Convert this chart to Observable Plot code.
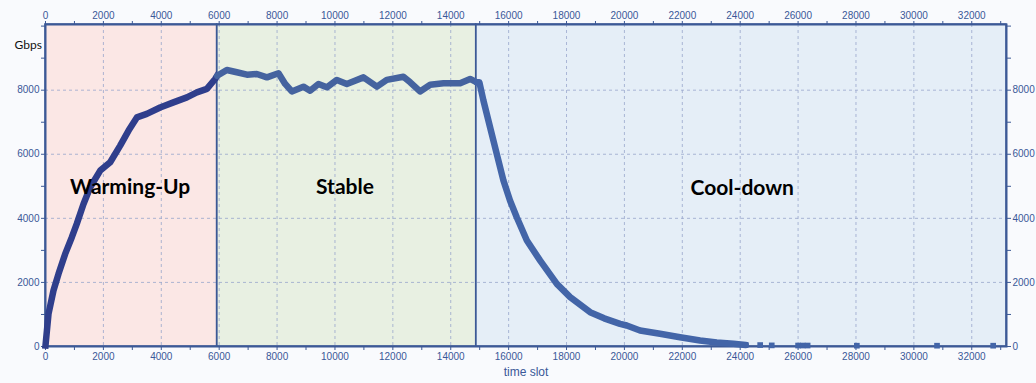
<!DOCTYPE html>
<html>
<head>
<meta charset="utf-8">
<script src="https://cdn.jsdelivr.net/npm/d3@7"></script>
<script src="https://cdn.jsdelivr.net/npm/@observablehq/plot@0.6"></script>
<style>
  html, body { margin: 0; padding: 0; background: #ffffff; }
  #chart { width: 1036px; height: 383px; }
</style>
</head>
<body>
<div id="chart"></div>
<script>
// ---- Data ----
const phaseNames = ["Warming-Up", "Stable", "Cool-down"];
const phaseStart = [0, 5930, 14880];
const phaseEnd = [5930, 14880, 33200];

const warmX = [0, 104, 276, 450, 680, 910, 1080, 1313, 1545, 1890, 2235, 2580, 2870, 3157, 3500, 3960, 4420, 4885, 5230, 5575, 5860, 5930];
const warmY = [30, 1020, 1747, 2268, 2890, 3410, 3827, 4450, 4970, 5490, 5750, 6270, 6740, 7150, 7260, 7460, 7620, 7775, 7930, 8040, 8350, 8450];

const stableX = [5930, 6265, 6610, 6960, 7300, 7650, 8050, 8280, 8510, 8910, 9140, 9430, 9720, 10065, 10410, 10985, 11450, 11790, 12365, 12600, 12940, 13290, 13750, 14325, 14670, 14900];
const stableY = [8450, 8630, 8560, 8485, 8505, 8400, 8530, 8195, 7960, 8110, 7985, 8195, 8090, 8320, 8195, 8400, 8110, 8320, 8420, 8245, 7960, 8170, 8215, 8215, 8350, 8245];

const coolX = [14900, 14990, 15130, 15360, 15590, 15820, 16050, 16280, 16630, 17090, 17665, 18125, 18815, 19300, 19850, 20080, 20540, 21230, 21920, 22615, 23190, 23770, 24190];
const coolY = [8245, 8245, 7673, 6840, 6010, 5180, 4550, 4035, 3306, 2680, 1955, 1540, 1070, 880, 708, 655, 500, 396, 290, 187, 125, 84, 50];

const tailX = [24190, 24690, 25090, 26000, 26160, 26330, 28030, 30800, 32740];
const tailY = [50, 45, 35, 30, 30, 30, 25, 25, 25];

const yTickValues = [0, 2000, 4000, 6000, 8000];
const xLabel = "time slot";
const yLabel = "Gbps";

// ---- Build tables ----
const phases = phaseNames.map((name, i) => ({name, x1: phaseStart[i], x2: phaseEnd[i]}));
const warm = warmX.map((x, i) => ({x, y: warmY[i]}));
const stable = stableX.map((x, i) => ({x, y: stableY[i]}));
const cool = coolX.map((x, i) => ({x, y: coolY[i]}));
const tail = tailX.map((x, i) => ({x, y: tailY[i]}));

const phaseFill = ["#fbe7e5", "#e8f0e2", "#e5eef7"];
const axisColor = "#3c5996";
const tickColor = "#3a5898";
const xMajor = d3.range(0, 33001, 2000);
const xAll = d3.range(0, 33001, 1000);
const yAll = d3.range(0, 10001, 1000);
const labelPos = [{x: 2925, y: 4960}, {x: 10345, y: 4960}, {x: 24070, y: 4930}];

const fmt = d => String(d);

const chart = Plot.plot({
  width: 1036,
  height: 383,
  marginLeft: 45,
  marginRight: 30,
  marginTop: 24,
  marginBottom: 37,
  x: {domain: [0, 33200]},
  y: {domain: [0, 10050]},
  style: {background: "#f9fafd", fontFamily: "'Liberation Sans', Arial, sans-serif"},
  marks: [
    Plot.rect(phases, {x1: "x1", x2: "x2", y1: 0, y2: 10050, fill: (d, i) => phaseFill[i]}),
    Plot.gridX(xMajor, {stroke: "#98a6cc", strokeOpacity: 0.8, strokeDasharray: "3,3"}),
    Plot.gridY(yTickValues, {stroke: "#98a6cc", strokeOpacity: 0.8, strokeDasharray: "3,3"}),
    Plot.rect(phases, {x1: "x1", x2: "x2", y1: 0, y2: 10050, stroke: axisColor, strokeWidth: 1.5, fill: "none"}),
    Plot.frame({stroke: axisColor, strokeWidth: 2}),
    Plot.axisX({anchor: "bottom", ticks: xAll, tickSize: 4, stroke: axisColor, color: tickColor, fontSize: 10,
      tickFormat: d => d % 2000 === 0 ? fmt(d) : "", label: null, tickPadding: 2}),
    Plot.axisX({anchor: "top", ticks: xAll, tickSize: 4, stroke: axisColor, color: tickColor, fontSize: 10,
      tickFormat: d => d % 2000 === 0 ? fmt(d) : "", label: null, tickPadding: 2}),
    Plot.axisY({anchor: "left", ticks: yAll, tickSize: 4, stroke: axisColor, color: tickColor, fontSize: 10,
      tickFormat: d => yTickValues.includes(d) ? fmt(d) : "", label: null, tickPadding: 2}),
    Plot.axisY({anchor: "right", ticks: yAll, tickSize: 4, stroke: axisColor, color: tickColor, fontSize: 10,
      tickFormat: d => yTickValues.includes(d) ? fmt(d) : "", label: null, tickPadding: 2}),
    Plot.line(warm, {x: "x", y: "y", stroke: "#2f3e8c", strokeWidth: 6.5, strokeLinejoin: "round", strokeLinecap: "square"}),
    Plot.line(stable, {x: "x", y: "y", stroke: "#45639f", strokeWidth: 6.5, strokeLinejoin: "round"}),
    Plot.line(cool, {x: "x", y: "y", stroke: "#4365a8", strokeWidth: 6.5, strokeLinejoin: "round"}),
    Plot.dot(tail, {x: "x", y: "y", symbol: "square", r: 3.2, fill: "#4365a8", stroke: "none"}),
    Plot.text(phases, {x: (d, i) => labelPos[i].x, y: (d, i) => labelPos[i].y, text: "name",
      fontSize: 21, fontWeight: "bold", fill: "#000", fontFamily: "Lato, 'Open Sans', sans-serif"}),
    Plot.text([yLabel], {frameAnchor: "top-left", dx: -31, dy: 16, text: d => d, textAnchor: "start",
      fontSize: 12, fill: "#111", fontFamily: "Lato, 'Open Sans', sans-serif"}),
    Plot.text([xLabel], {frameAnchor: "bottom", dy: 29, text: d => d, fontSize: 12, fill: tickColor})
  ]
});
document.getElementById("chart").appendChild(chart);
</script>
</body>
</html>
